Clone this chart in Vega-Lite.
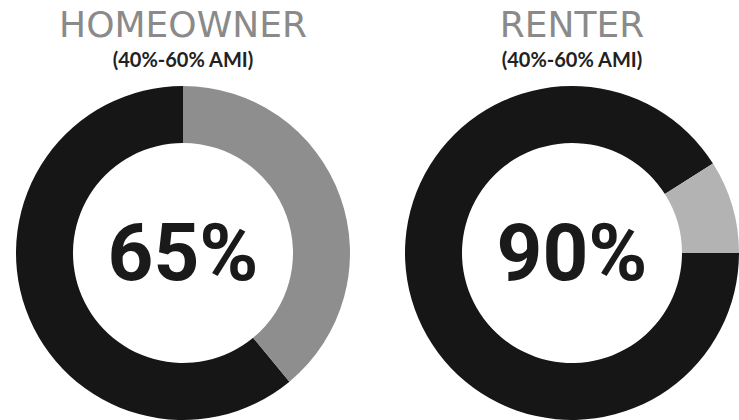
{
  "$schema": "https://vega.github.io/schema/vega-lite/v6.json",
  "padding": {"top": 8, "left": 0, "right": 0, "bottom": 0},
  "spacing": 39,
  "background": "white",
  "config": {"view": {"stroke": null}, "font": "DejaVu Sans"},
  "resolve": {"scale": {"color": "independent", "theta": "independent"}},
  "datasets": {
    "homeowner": [
      {"part": "cost burdened", "share": 61, "label": "65%"},
      {"part": "other", "share": 39, "label": ""}
    ],
    "renter": [
      {"part": "cost burdened", "share": 91, "label": "90%"},
      {"part": "other", "share": 9, "label": ""}
    ]
  },
  "hconcat": [
    {
      "width": 366,
      "height": 338,
      "data": {"name": "homeowner"},
      "title": {
        "text": "HOMEOWNER",
        "subtitle": "(40%-60% AMI)",
        "anchor": "middle",
        "font": "DejaVu Sans",
        "fontSize": 36,
        "fontWeight": "normal",
        "color": "#8a8a8a",
        "subtitleFont": "Lato",
        "subtitleFontSize": 20,
        "subtitleFontWeight": "bold",
        "subtitleColor": "#222222",
        "subtitlePadding": 6,
        "offset": 12
      },
      "layer": [
        {
          "mark": {"type": "arc", "radius": 167, "radius2": 110},
          "encoding": {
            "theta": {"field": "share", "type": "quantitative", "stack": true, "scale": {"range": [0, 6.283185]}},
            "color": {"field": "part", "type": "nominal", "scale": {"domain": ["cost burdened", "other"], "range": ["#161616", "#8e8e8e"]}, "legend": null},
            "order": {"field": "part", "sort": "descending"}
          }
        },
        {
          "transform": [{"filter": "datum.label != ''"}],
          "mark": {"type": "text", "font": "Roboto", "fontWeight": "bold", "fontSize": 80, "baseline": "middle", "align": "center", "color": "#1a1a1a", "dy": 3},
          "encoding": {"text": {"field": "label", "type": "nominal"}}
        }
      ]
    },
    {
      "width": 334,
      "height": 338,
      "data": {"name": "renter"},
      "title": {
        "text": "RENTER",
        "subtitle": "(40%-60% AMI)",
        "anchor": "middle",
        "font": "DejaVu Sans",
        "fontSize": 36,
        "fontWeight": "normal",
        "color": "#8a8a8a",
        "subtitleFont": "Lato",
        "subtitleFontSize": 20,
        "subtitleFontWeight": "bold",
        "subtitleColor": "#222222",
        "subtitlePadding": 6,
        "offset": 12
      },
      "layer": [
        {
          "mark": {"type": "arc", "radius": 167, "radius2": 110},
          "encoding": {
            "theta": {"field": "share", "type": "quantitative", "stack": true, "scale": {"range": [1.570796, 7.853982]}},
            "color": {"field": "part", "type": "nominal", "scale": {"domain": ["cost burdened", "other"], "range": ["#161616", "#b3b3b3"]}, "legend": null},
            "order": {"field": "part", "sort": "ascending"}
          }
        },
        {
          "transform": [{"filter": "datum.label != ''"}],
          "mark": {"type": "text", "font": "Roboto", "fontWeight": "bold", "fontSize": 80, "baseline": "middle", "align": "center", "color": "#1a1a1a", "dy": 3},
          "encoding": {"text": {"field": "label", "type": "nominal"}}
        }
      ]
    }
  ]
}
